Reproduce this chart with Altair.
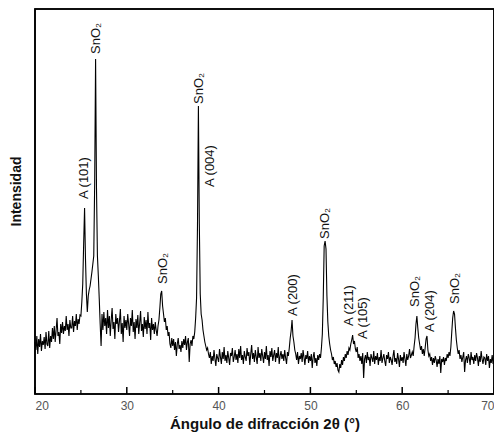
import altair as alt
import pandas as pd

# 2-theta grid: 20.0 .. 70.0 in 0.1 degree steps
start_deg = 20.0
step_deg = 0.1
intensity_rows = [
    [52, 44, 58, 40, 55, 47, 60, 43, 53, 49],          # 20
    [57, 45, 62, 50, 48, 63, 46, 58, 52, 66],          # 21
    [55, 68, 52, 64, 76, 58, 62, 50, 70, 61],          # 22
    [72, 60, 68, 63, 78, 64, 70, 58, 74, 66],          # 23
    [66, 78, 62, 73, 68, 80, 64, 75, 70, 79],          # 24
    [78, 92, 110, 150, 186, 135, 100, 82, 98, 104],    # 25
    [108, 115, 122, 130, 138, 210, 335, 205, 138, 118],# 26
    [95, 70, 48, 80, 64, 82, 68, 76, 60, 84],          # 27
    [66, 78, 58, 74, 86, 65, 72, 55, 80, 70],          # 28
    [76, 62, 73, 85, 60, 71, 52, 78, 66, 74],          # 29
    [64, 80, 70, 58, 76, 68, 84, 62, 72, 55],          # 30
    [75, 66, 79, 60, 71, 83, 63, 70, 57, 77],          # 31
    [65, 74, 60, 82, 66, 71, 54, 76, 64, 70],          # 32
    [60, 72, 64, 58, 68, 74, 86, 100, 103, 88],        # 33
    [80, 72, 76, 64, 68, 58, 62, 50, 46, 56],          # 34
    [48, 55, 44, 52, 38, 50, 56, 45, 49, 42],          # 35
    [53, 46, 55, 49, 58, 44, 52, 56, 32, 50],          # 36
    [54, 48, 58, 55, 62, 76, 96, 168, 288, 170],       # 37
    [100, 80, 74, 64, 58, 52, 48, 44, 46, 40],         # 38
    [36, 42, 30, 38, 33, 44, 35, 28, 40, 36],          # 39
    [32, 45, 37, 30, 42, 35, 47, 33, 39, 31],          # 40
    [43, 36, 29, 41, 38, 46, 32, 37, 44, 34],          # 41
    [40, 31, 45, 36, 48, 34, 39, 30, 43, 37],          # 42
    [33, 46, 38, 42, 29, 40, 49, 35, 41, 32],          # 43
    [44, 37, 30, 47, 36, 41, 33, 45, 38, 31],          # 44
    [42, 35, 48, 34, 39, 28, 43, 37, 46, 33],          # 45
    [39, 44, 32, 41, 36, 47, 30, 38, 43, 35],          # 46
    [40, 33, 44, 36, 30, 42, 38, 46, 56, 63],          # 47
    [74, 58, 52, 44, 40, 34, 42, 30, 38, 35],          # 48
    [41, 32, 44, 37, 29, 39, 35, 43, 31, 38],          # 49
    [33, 40, 26, 37, 42, 31, 36, 28, 39, 34],          # 50
    [40, 36, 46, 60, 96, 148, 153, 145, 98, 72],       # 51
    [58, 50, 44, 40, 34, 37, 30, 33, 27, 31],          # 52
    [24, 22, 30, 26, 34, 29, 37, 33, 40, 36],          # 53
    [43, 39, 46, 44, 50, 54, 59, 50, 53, 45],          # 54
    [42, 47, 36, 40, 33, 38, 30, 41, 16, 35],          # 55
    [39, 31, 42, 34, 37, 28, 40, 36, 32, 43],          # 56
    [30, 38, 34, 41, 29, 37, 33, 44, 31, 36],          # 57
    [40, 33, 28, 39, 35, 42, 31, 37, 34, 29],          # 58
    [38, 44, 32, 36, 30, 41, 35, 27, 39, 33],          # 59
    [37, 31, 42, 35, 28, 40, 34, 38, 45, 36],          # 60
    [39, 42, 38, 48, 56, 70, 78, 66, 56, 50],          # 61
    [44, 48, 40, 45, 38, 46, 55, 58, 44, 38],          # 62
    [40, 33, 37, 29, 36, 31, 38, 34, 27, 35],          # 63
    [30, 38, 21, 35, 32, 37, 29, 36, 33, 40],          # 64
    [36, 42, 38, 47, 62, 76, 83, 80, 66, 54],          # 65
    [46, 40, 44, 35, 39, 32, 37, 42, 22, 34],          # 66
    [38, 31, 40, 36, 29, 42, 34, 37, 30, 39],          # 67
    [33, 41, 36, 28, 38, 32, 43, 35, 30, 37],          # 68
    [36, 29, 40, 33, 38, 26, 35, 31, 39, 30],          # 69
    [34],                                              # 70
]

peak_labels = ["A (101)", "SnO₂", "SnO₂", "SnO₂", "A (004)", "A (200)",
               "SnO₂", "A (211)", "A (105)", "SnO₂", "A (204)", "SnO₂"]
label_x = [25.3, 26.6, 33.9, 37.9, 39.1, 48.1, 51.6, 54.2, 55.7, 61.4, 63.0, 65.7]
label_y = [195, 340, 110, 290, 207, 78, 155, 68, 55, 87, 62, 90]

major_ticks = [20, 30, 40, 50, 60, 70]
minor_ticks = [25, 35, 45, 55, 65]
x_title = "Ángulo de difracción 2θ (°)"
y_title = "Intensidad"

values = [v for row in intensity_rows for v in row]
angles = [round(start_deg + i * step_deg, 1) for i in range(len(values))]
df = pd.DataFrame({"angle": angles, "intensity": values})
lab = pd.DataFrame({"angle": label_x, "intensity": label_y, "text": peak_labels})
ticks = pd.DataFrame({"angle": major_ticks + minor_ticks,
                      "kind": ["major"] * len(major_ticks) + ["minor"] * len(minor_ticks)})

W, H = 459, 385
xscale = alt.Scale(domain=[20, 70], nice=False, zero=False)
yscale = alt.Scale(domain=[0, 385], nice=False, zero=False)

xaxis = alt.Axis(values=major_ticks, title=x_title, domain=False, ticks=False, grid=False,
                 labelFontSize=12, labelColor="#555", labelFont="Liberation Sans",
                 labelPadding=6, titleFontSize=15, titleFont="Liberation Sans",
                 titleFontWeight="bold", titleColor="#111", titlePadding=5)
yaxis = alt.Axis(title=y_title, labels=False, ticks=False, domain=False, grid=False,
                 titleFontSize=14, titleFont="Liberation Sans", titleFontWeight="bold",
                 titleColor="#111", titlePadding=12, titleY=182)

line = alt.Chart(df).mark_line(color="black", strokeWidth=1.1, interpolate="linear").encode(
    x=alt.X("angle:Q", scale=xscale, axis=xaxis),
    y=alt.Y("intensity:Q", scale=yscale, axis=yaxis),
)

text = alt.Chart(lab).mark_text(angle=270, align="left", baseline="middle",
                                font="Liberation Sans", fontSize=13, color="#111").encode(
    x=alt.X("angle:Q", scale=xscale),
    y=alt.Y("intensity:Q", scale=yscale),
    text="text:N",
)

major = alt.Chart(ticks[ticks.kind == "major"]).mark_rule(color="black", strokeWidth=1.5).encode(
    x=alt.X("angle:Q", scale=xscale),
    y=alt.value(H),
    y2=alt.value(H - 7),
)
minor = alt.Chart(ticks[ticks.kind == "minor"]).mark_rule(color="black", strokeWidth=1.2).encode(
    x=alt.X("angle:Q", scale=xscale),
    y=alt.value(H),
    y2=alt.value(H - 4),
)

frame = alt.Chart(ticks.head(1)).mark_rect(fill=None, stroke="black", strokeWidth=1.6).encode(
    x=alt.value(0), x2=alt.value(W), y=alt.value(0), y2=alt.value(H),
)

chart = alt.layer(line, major, minor, text, frame).properties(
    width=W, height=H,
    background="white",
    autosize=alt.AutoSizeParams(type="none"),
    padding={"left": 27, "top": 1, "right": 0, "bottom": 40},
).configure_view(stroke="black", strokeWidth=1.6)

chart.save("out.html", embed_options={"renderer": "svg", "actions": False})
